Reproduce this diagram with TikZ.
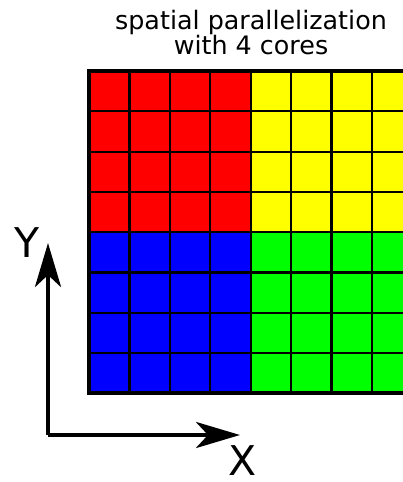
\documentclass[tikz,border=0pt]{standalone}
\usepackage{fontspec}
\setmainfont{DejaVu Sans}
\usetikzlibrary{arrows.meta}
\definecolor{corered}{RGB}{255,0,0}
\definecolor{coreyellow}{RGB}{255,255,0}
\definecolor{coreblue}{RGB}{0,0,255}
\definecolor{coregreen}{RGB}{0,255,0}
\begin{document}
\begin{tikzpicture}
[x=1pt, y=-1pt, font=\fontsize{25.4}{25}\selectfont]
\tikzstyle{cell}=[draw=black, line width=2.2pt]
\tikzstyle{axis}=[line width=4.4pt, -{Stealth[length=44pt, width=26pt, inset=12pt]}]
\tikzstyle{axislabel}=[inner sep=0pt, font=\fontsize{41}{41}\selectfont]
\useasboundingbox (0,0) rectangle (403,482);
\clip (0,0) rectangle (403,482);

\node (title) at (251,33) [align=center] {spatial parallelization\\with 4 cores};

% one 4x4 block per core
\foreach \col/\cx/\cy in {corered/0/0, coreyellow/4/0, coreblue/0/4, coregreen/4/4}
  \foreach \i in {0,...,3}
    \foreach \j in {0,...,3}
      \draw [cell, fill=\col] ({89+(\cx+\i)*40.4},{71+(\cy+\j)*40.3}) rectangle +(40.4,40.3);
\draw [line width=4pt] (89,71) rectangle ({89+8*40.4},{71+8*40.3});

\coordinate (O) at (48,435);
\coordinate (Ytip) at (48,243);
\coordinate (Xtip) at (240,435);
\draw [axis] (O) -- (Ytip);
\draw [axis] (O) -- (Xtip);

\node [axislabel] (Y) at (27,243) {Y};
\node [axislabel] (X) at (243,461) {X};
\end{tikzpicture}
\end{document}
